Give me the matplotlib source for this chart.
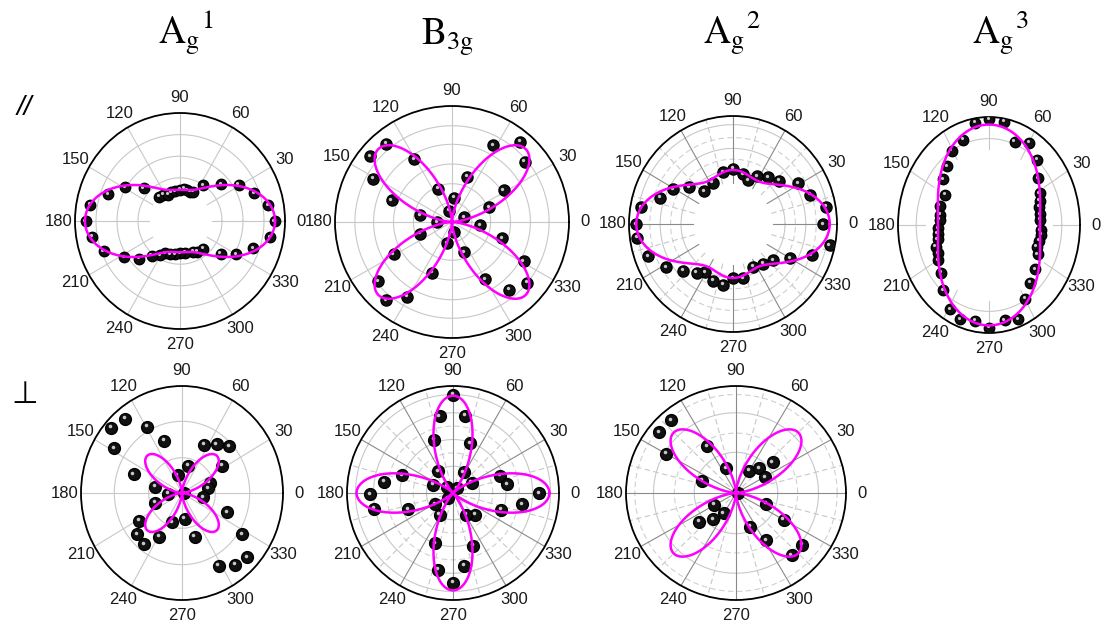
import numpy as np
import matplotlib.pyplot as plt
from matplotlib.transforms import offset_copy

plt.rcParams['font.family'] = ['Liberation Sans', 'DejaVu Sans']
plt.rcParams['mathtext.fontset'] = 'stix'

# measured points: polarisation angle (deg) and normalised intensity
ag1_par_ang = [180, 170, 160, 149, 139, 131, 123, 115, 107, 100, 90, 83, 77, 70, 65, 56, 41, 31, 20, 10,
               0, 350, 340, 330, 322, 311, 300, 294, 280, 270, 262, 253, 245, 239, 230, 222, 212, 201, 190]
ag1_par_r = [0.90, 0.87, 0.73, 0.61, 0.46, 0.30, 0.29, 0.27, 0.28, 0.28, 0.29, 0.30, 0.29, 0.29, 0.30, 0.40, 0.52,
             0.65, 0.75, 0.85, 0.90, 0.87, 0.74, 0.62, 0.49, 0.34, 0.33, 0.31, 0.30, 0.30, 0.31, 0.32, 0.33, 0.37,
             0.42, 0.52, 0.63, 0.78, 0.85]

b3g_par_ang = [50, 62, 40, 32, 72, 22, 86, 106, 23, 353, 342, 331, 321, 310, 300, 291, 279, 257, 249, 239,
               230, 219, 209, 200, 180, 168, 160, 151, 141, 130, 121, 112]
b3g_par_r = [0.905, 0.75, 0.81, 0.52, 0.41, 0.34, 0.21, 0.10, 0.11, 0.24, 0.45, 0.70, 0.83, 0.76, 0.57, 0.28,
             0.09, 0.19, 0.47, 0.75, 0.88, 0.81, 0.57, 0.29, 0.13, 0.28, 0.55, 0.77, 0.90, 0.88, 0.63, 0.31]

ag2_par_ang = [180, 170, 161, 151, 141, 132, 117, 101, 90, 78, 70, 62, 52, 42, 31, 20, 10, 0, 348, 339,
               330, 319, 308, 296, 281, 270, 260, 250, 239, 232, 222, 212, 200, 188]
ag2_par_r = [0.93, 0.90, 0.74, 0.66, 0.54, 0.41, 0.43, 0.49, 0.51, 0.47, 0.43, 0.50, 0.55, 0.60, 0.73, 0.79,
             0.91, 0.87, 0.95, 0.81, 0.63, 0.51, 0.47, 0.44, 0.51, 0.50, 0.57, 0.56, 0.52, 0.57, 0.65, 0.76,
             0.87, 0.93]

ag3_par_ang = [90, 99, 80, 110, 70, 60, 121, 49, 130, 39, 140, 28, 150, 22, 17, 162, 10, 5, 170, 175, 183,
               188, 193, 355, 351, 345, 199, 205, 339, 333, 210, 321, 220, 310, 230, 300, 241, 290, 250, 260,
               270, 281]
ag3_par_r = [0.98, 0.96, 0.97, 0.84, 0.82, 0.88, 0.80, 0.80, 0.71, 0.69, 0.66, 0.63, 0.56, 0.60, 0.58, 0.57,
             0.57, 0.56, 0.55, 0.545, 0.56, 0.57, 0.58, 0.57, 0.58, 0.57, 0.62, 0.62, 0.56, 0.60, 0.65, 0.65,
             0.69, 0.70, 0.79, 0.79, 0.89, 0.93, 0.93, 0.90, 0.95, 0.90]

ag1_perp_ang = [139, 129, 148, 119, 110, 160, 64, 53, 43, 33, 77, 105, 19, 10, 349, 168, 183, 199, 251, 276,
                211, 221, 232, 241, 287, 338, 327, 317, 308, 298, 0]
ag1_perp_r = [0.93, 0.89, 0.79, 0.71, 0.52, 0.51, 0.50, 0.57, 0.64, 0.47, 0.26, 0.17, 0.29, 0.26, 0.21, 0.27,
              0.14, 0.28, 0.29, 0.24, 0.50, 0.59, 0.61, 0.47, 0.43, 0.48, 0.71, 0.88, 0.85, 0.77, 0.02]

b3g_perp_ang = [90, 100, 81, 110, 71, 125, 63, 157, 29, 161, 171, 181, 191, 200, 211, 238, 20, 9, 0, 351,
                341, 315, 302, 250, 291, 259, 279, 270, 135, 45, 225]
b3g_perp_r = [0.92, 0.73, 0.73, 0.53, 0.49, 0.25, 0.22, 0.20, 0.20, 0.51, 0.66, 0.78, 0.76, 0.45, 0.20, 0.24,
              0.47, 0.52, 0.81, 0.66, 0.48, 0.29, 0.24, 0.50, 0.53, 0.73, 0.69, 0.84, 0.08, 0.06, 0.07]

ag2_perp_ang = [131, 141, 150, 121, 111, 160, 60, 48, 41, 29, 340, 330, 292, 302, 321, 311, 209, 239, 230,
                219, 0]
ag2_perp_r = [0.90, 0.90, 0.73, 0.51, 0.25, 0.33, 0.24, 0.31, 0.44, 0.30, 0.29, 0.50, 0.34, 0.52, 0.77, 0.77,
              0.23, 0.22, 0.32, 0.43, 0.02]

# fitted Raman tensor terms: I = a*cos^4 + c*sin^4 + 2*b*sin^2*cos^2
fit_ag1_par = (0.905, 0.29, 0.32)
fit_b3g_par = (0.0, 0.0, 1.78)
fit_ag2_par = (0.93, 0.50, 0.33)
fit_ag3_par = (0.56, 0.93, 0.72)
fit_ag1_perp = (0.0, 0.0, 0.98)
fit_b3g_perp = (0.91, 0.91, -0.91)
fit_ag2_perp = (0.0, 0.0, 1.60)

titles = [r'$\mathrm{A_g{}^1}$', r'$\mathrm{B_{3g}}$', r'$\mathrm{A_g{}^2}$', r'$\mathrm{A_g{}^3}$']
angle_labels = [str(a) for a in range(0, 360, 30)]

W, H = 1104, 628


def raman(theta, p):
    a, c, b = p
    cs, sn = np.cos(theta) ** 2, np.sin(theta) ** 2
    return a * cs ** 2 + c * sn ** 2 + 2 * b * sn * cs


def polar_panel(fig, cx, cy, rx, ry):
    ax = fig.add_axes([(cx - rx) / W, (H - cy - ry) / H, 2 * rx / W, 2 * ry / H], projection='polar')
    ax.set_aspect('auto')
    ax.set_ylim(0, 1)
    ax.set_yticks([])
    ax.set_thetagrids(range(0, 360, 30), angle_labels, fontsize=12, color='#1a1a1a')
    ax.tick_params(axis='x', pad=1)
    ax.grid(False)
    ax.spines['polar'].set_color('black')
    ax.spines['polar'].set_linewidth(1.3)
    return ax


def draw_grid(ax, rings, dashed, r0, minor, spoke_col):
    t = np.linspace(0, 2 * np.pi, 361)
    for rr in rings:
        ax.plot(t, np.full_like(t, rr), color='#c8c8c8', lw=0.8, zorder=1)
    for rr in dashed:
        ax.plot(t, np.full_like(t, rr), color='#d0d0d0', lw=0.8, ls=(0, (5, 3)), zorder=1)
    for a in range(0, 360, 30):
        ax.plot([np.deg2rad(a)] * 2, [r0, 1], color=spoke_col, lw=0.8, zorder=1)
    if minor:
        for a in range(15, 360, 30):
            ax.plot([np.deg2rad(a)] * 2, [r0, 1], color='#c8c8c8', lw=0.8, ls=(0, (5, 3)), zorder=1)


def draw_data(fig, ax, ang, r, fit, ms):
    th = np.deg2rad(ang)
    ax.plot(th, r, 'o', color='black', mfc='#111111', mec='black', ms=ms, zorder=3)
    hl = offset_copy(ax.transData, fig=fig, x=-1.2, y=1.5, units='dots')
    ax.plot(th, r, 'o', color='#c8c8c8', mec='none', ms=ms * 0.3, transform=hl, zorder=4)
    t = np.linspace(0, 2 * np.pi, 721)
    ax.plot(t, raman(t, fit), color='#ff00ff', lw=1.8, zorder=5)


fig = plt.figure(figsize=(W / 100, H / 100), dpi=100)

panels = [
    # cx, cy, rx, ry, data, grid(rings, dashed, spoke start, minor, spoke colour), marker size
    (180, 221, 105, 108, (ag1_par_ang, ag1_par_r, fit_ag1_par), ([0.4, 0.6, 0.8], [], 0.3, False, '#c8c8c8'), 7.5),
    (452, 222, 117, 116, (b3g_par_ang, b3g_par_r, fit_b3g_par), ([0.17, 0.33, 0.5, 0.67, 0.83], [], 0.0, False, '#c8c8c8'), 8),
    (733, 224, 104, 108, (ag2_par_ang, ag2_par_r, fit_ag2_par), ([0.5, 0.7, 0.92], [0.6, 0.8], 0.38, True, '#8a8a8a'), 8),
    (989, 225, 91, 108, (ag3_par_ang, ag3_par_r, fit_ag3_par), ([0.8], [], 0.7, False, '#c8c8c8'), 7.5),
    (182, 493, 101, 107, (ag1_perp_ang, ag1_perp_r, fit_ag1_perp), ([0.33, 0.67], [], 0.0, False, '#c8c8c8'), 8.5),
    (453, 493, 106, 107, (b3g_perp_ang, b3g_perp_r, fit_b3g_perp), ([0.25, 0.5, 0.75, 0.92], [0.375, 0.625], 0.0, True, '#8a8a8a'), 8.5),
    (736, 493, 110, 107, (ag2_perp_ang, ag2_perp_r, fit_ag2_perp), ([0.38, 0.75], [0.56, 0.92], 0.0, True, '#8a8a8a'), 8.5),
]

for cx, cy, rx, ry, (ang, r, fit), grid, ms in panels:
    ax = polar_panel(fig, cx, cy, rx, ry)
    draw_grid(ax, *grid)
    draw_data(fig, ax, ang, r, fit, ms)

title_x = [158, 421, 703, 972]
for x, t in zip(title_x, titles):
    fig.text(x / W, 1 - 45 / H, t, fontsize=27, ha='left', va='baseline')

fig.text(24 / W, 1 - 108 / H, '//', fontsize=20, style='italic', ha='center', va='center')
fig.text(25 / W, 1 - 395 / H, '\u22a5', fontsize=22, ha='center', va='center')

fig.savefig('out.png', dpi=100)
